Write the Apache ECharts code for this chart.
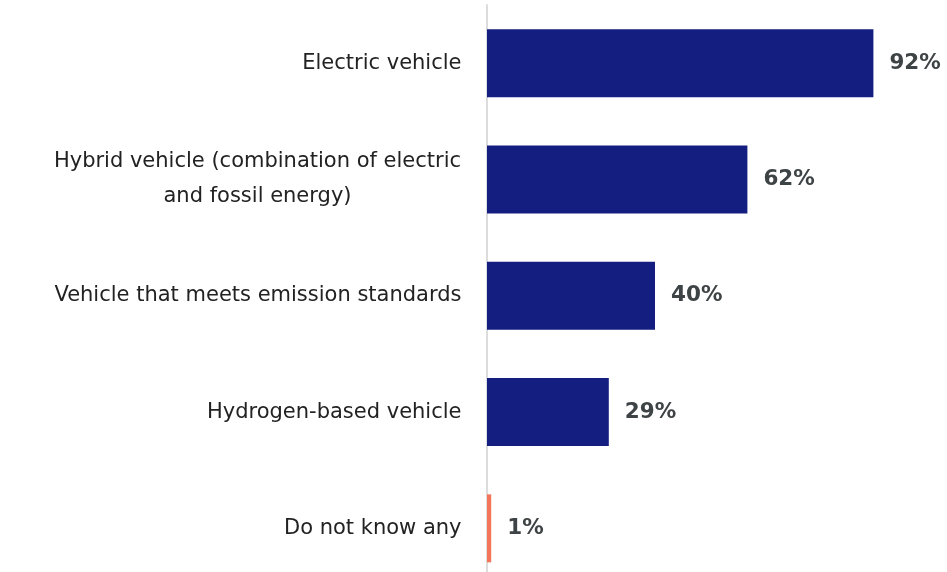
<!DOCTYPE html>
<html>
<head>
<meta charset="utf-8">
<script src="https://cdn.jsdelivr.net/npm/echarts@6/dist/echarts.min.js"></script>
<style>
  html, body { margin: 0; padding: 0; background: #ffffff; }
  #chart { width: 947px; height: 572px; }
</style>
</head>
<body>
<div id="chart"></div>
<script>
// Vehicle types known as low-emission, share of respondents (%)
const categories = [
  'Electric vehicle',
  'Hybrid vehicle (combination of electric\nand fossil energy)',
  'Vehicle that meets emission standards',
  'Hydrogen-based vehicle',
  'Do not know any'
];
const values = [92, 62, 40, 29, 1];
const barColors = ['#141e80', '#141e80', '#141e80', '#141e80', '#f4755a'];

const fontFamily = '"DejaVu Sans", "Noto Sans", sans-serif';
const labelSize = 21;

// width of the widest line, so wrapped labels can be centred line by line
function textWidth(s) {
  const ctx = document.createElement('canvas').getContext('2d');
  ctx.font = labelSize + 'px ' + fontFamily;
  return Math.ceil(ctx.measureText(s).width);
}

const wrapped = categories.filter(function (c) { return c.indexOf('\n') >= 0; })[0];
const wrappedWidth = Math.max.apply(null, wrapped.split('\n').map(textWidth));

const chart = echarts.init(document.getElementById('chart'));

chart.setOption({
  animation: false,
  grid: { left: 487, top: 5, width: 420, height: 581.5, outerBoundsMode: 'none' },
  xAxis: {
    type: 'value',
    min: 0,
    max: 100,
    show: false
  },
  yAxis: {
    type: 'category',
    data: categories,
    inverse: true,
    offset: 1.5,
    axisLine: { show: true, lineStyle: { color: '#dcdcdc', width: 2 } },
    axisTick: { show: false },
    axisLabel: {
      margin: 24,
      color: '#222222',
      fontSize: labelSize,
      fontFamily: fontFamily,
      formatter: function (v) {
        if (v.indexOf('\n') < 0) return v;
        return v.split('\n').map(function (s) {
          return '{c|' + s + '}';
        }).join('\n');
      },
      rich: {
        c: {
          width: wrappedWidth,
          align: 'center',
          lineHeight: 35,
          fontSize: labelSize,
          color: '#222222',
          fontFamily: fontFamily
        }
      }
    }
  },
  series: [{
    type: 'bar',
    data: values.map(function (v, i) {
      return { value: v, itemStyle: { color: barColors[i] } };
    }),
    barWidth: 68,
    label: {
      show: true,
      position: 'right',
      distance: 16,
      formatter: '{c}%',
      color: '#3e4345',
      fontSize: 21.5,
      fontWeight: 'bold',
      fontFamily: fontFamily
    }
  }]
});
</script>
</body>
</html>
